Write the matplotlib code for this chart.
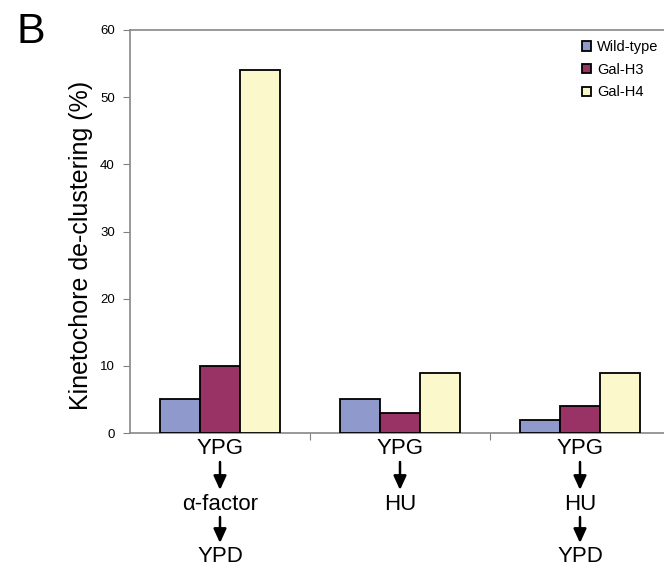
import numpy as np
import matplotlib
matplotlib.use('Agg')
import matplotlib.pyplot as plt
from matplotlib import transforms

plt.rcParams['font.family'] = ['Liberation Sans', 'DejaVu Sans']

conditions = ['YPG\u2192\u03b1-factor\u2192YPD', 'YPG\u2192HU', 'YPG\u2192HU\u2192YPD']
cond_steps = [['YPG', '\u03b1-factor', 'YPD'], ['YPG', 'HU'], ['YPG', 'HU', 'YPD']]
strains = ['Wild-type', 'Gal-H3', 'Gal-H4']
wild_type = [5, 5, 2]
gal_h3 = [10, 3, 4]
gal_h4 = [54, 9, 9]
colors = ['#8f99cc', '#993366', '#fbf8cc']
yticks = [0, 10, 20, 30, 40, 50, 60]

W, H = 664, 569
fig = plt.figure(figsize=(W / 100, H / 100), dpi=100)
ax = fig.add_axes([130 / W, 1 - 433 / H, 540 / W, 403 / H])

x = np.arange(len(conditions))
bw = 0.222
for i, (vals, name) in enumerate(zip([wild_type, gal_h3, gal_h4], strains)):
    ax.bar(x + (i - 1) * bw, vals, bw, color=colors[i], edgecolor='black',
           linewidth=1.3, label=name, zorder=3)

ax.set_xlim(-0.5, 2.5)
ax.set_ylim(0, 60)
ax.set_yticks(yticks)
ax.tick_params(axis='y', labelsize=9.5, length=5, color='#808080', pad=6)
ax.set_xticks([0.5, 1.5])
ax.set_xticklabels([])
ax.tick_params(axis='x', length=5, color='#808080')
for s in ['left', 'bottom', 'top', 'right']:
    ax.spines[s].set_color('#888888')
    ax.spines[s].set_linewidth(1.2)

ax.set_ylabel('Kinetochore de-clustering (%)', fontsize=18, labelpad=3)
ax.yaxis.set_label_coords(-0.068, 0.465)

# condition labels below the axis, with arrows between steps
tr = transforms.blended_transform_factory(ax.transData, fig.transFigure)
text_y = [449, 504, 557]
for xi, steps in zip(x, cond_steps):
    for j, step in enumerate(steps):
        ax.text(xi, 1 - text_y[j] / H, step, transform=tr, ha='center', va='center',
                fontsize=16)
        if j < len(steps) - 1:
            y0 = 1 - (text_y[j] + 13) / H
            y1 = 1 - (text_y[j + 1] - 14) / H
            ax.annotate('', xy=(xi, y1), xytext=(xi, y0), xycoords=tr, textcoords=tr,
                        arrowprops=dict(arrowstyle='-|>,head_length=0.7,head_width=0.32',
                                        mutation_scale=12, lw=1.8, color='black',
                                        shrinkA=0, shrinkB=0),
                        annotation_clip=False)

fig.legend(loc='upper left', bbox_to_anchor=(582 / W, 1 - 40 / H), frameon=False,
           fontsize=10.5, handlelength=0.62, handleheight=0.62, handletextpad=0.4,
           labelspacing=0.6, borderpad=0, borderaxespad=0)

fig.text(17 / W, 1 - 43 / H, 'B', fontsize=31, va='baseline', ha='left')

fig.savefig('out.png', dpi=100)
